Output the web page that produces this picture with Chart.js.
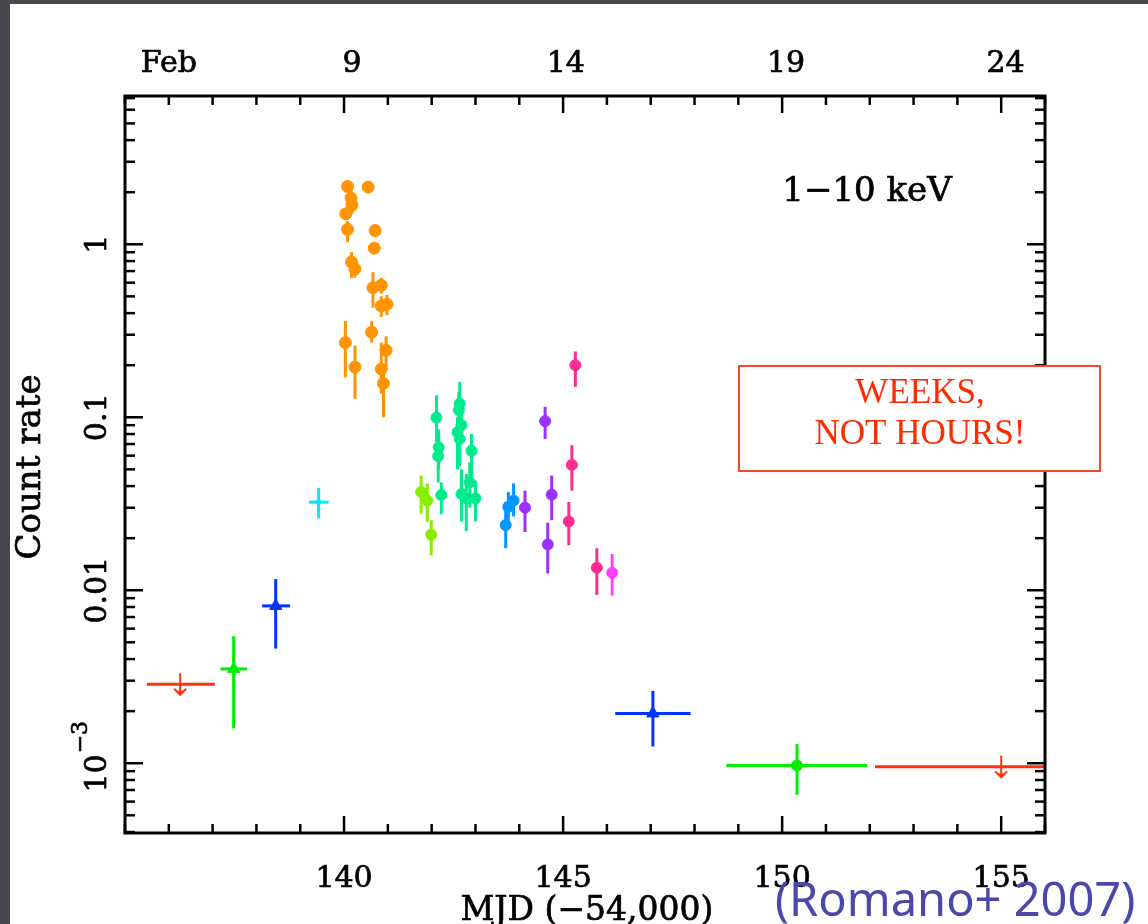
<!DOCTYPE html>
<html><head><meta charset="utf-8">
<script src="https://cdn.jsdelivr.net/npm/chart.js@4.4.1/dist/chart.umd.min.js"></script>
<style>
html,body{margin:0;padding:0;background:#46484e;width:1148px;height:924px;overflow:hidden;}
#wrap{position:absolute;left:10px;top:4px;width:1138px;height:920px;background:#fff;}
</style></head><body>
<div id="wrap"><canvas id="c"></canvas></div>
<script>
// ---------- axis ranges & tick labels ----------
const xRange = [135, 156];
const yRange = [3.95e-4, 7.2];
const xMajorTicks = [140, 145, 150, 155];
const xTickLabels = ['140', '145', '150', '155'];
const topLabelMJD = [136.0, 140.18, 145.06, 150.09, 155.1];
const topTickLabels = ['Feb', '9', '14', '19', '24'];
const yMajorTicks = [1, 0.1, 0.01, 0.001];
const yTickLabels = ['1', '0.1', '0.01', '10^-3'];

// ---------- data (MJD-54000, count rate, error range) ----------
const orangeMJD  = [140.08, 140.55, 140.16, 140.18, 140.04, 140.08, 140.71, 140.69, 140.17, 140.25, 140.66, 140.85, 140.85, 140.98, 140.63, 140.03, 140.25, 140.96, 140.85, 140.90];
const orangeRate = [2.16, 2.14, 1.85, 1.68, 1.5, 1.22, 1.2, 0.95, 0.79, 0.72, 0.56, 0.58, 0.44, 0.45, 0.31, 0.27, 0.195, 0.244, 0.19, 0.157];
const orangeLow  = [2.0, 2.0, 1.65, 1.5, 1.38, 1.03, 1.1, 0.88, 0.64, 0.64, 0.43, 0.52, 0.38, 0.39, 0.27, 0.17, 0.128, 0.195, 0.137, 0.10];
const orangeHigh = [2.3, 2.3, 2.05, 1.85, 1.62, 1.36, 1.3, 1.02, 0.9, 0.8, 0.69, 0.64, 0.5, 0.51, 0.36, 0.36, 0.26, 0.294, 0.27, 0.18];

const limeMJD  = [141.76, 141.90, 141.99];
const limeRate = [0.037, 0.033, 0.021];
const limeLow  = [0.0277, 0.0249, 0.0159];
const limeHigh = [0.046, 0.0414, 0.0254];

const tealMJD  = [142.11, 142.16, 142.15, 142.22, 142.64, 142.62, 142.68, 142.59, 142.64, 142.91, 142.68, 142.87, 142.79, 143.00];
const tealRate = [0.0995, 0.067, 0.0596, 0.0355, 0.12, 0.11, 0.09, 0.082, 0.075, 0.064, 0.036, 0.042, 0.034, 0.034];
const tealLow  = [0.072, 0.05, 0.042, 0.0275, 0.09, 0.085, 0.07, 0.05, 0.052, 0.042, 0.025, 0.03, 0.022, 0.025];
const tealHigh = [0.134, 0.085, 0.075, 0.042, 0.16, 0.14, 0.11, 0.1, 0.095, 0.08, 0.05, 0.055, 0.047, 0.043];

const azureMJD  = [143.69, 143.75, 143.87];
const azureRate = [0.0238, 0.0303, 0.033];
const azureLow  = [0.0175, 0.024, 0.0267];
const azureHigh = [0.0324, 0.037, 0.0415];

const purpleMJD  = [144.59, 144.13, 144.74, 144.65];
const purpleRate = [0.095, 0.030, 0.0357, 0.0184];
const purpleLow  = [0.075, 0.0217, 0.0254, 0.0125];
const purpleHigh = [0.115, 0.0377, 0.046, 0.0246];

const pinkMJD  = [145.28, 145.20, 145.13, 145.77];
const pinkRate = [0.2, 0.053, 0.025, 0.0135];
const pinkLow  = [0.15, 0.0377, 0.0182, 0.0094];
const pinkHigh = [0.24, 0.069, 0.0324, 0.0175];

const magentaMJD  = [146.12];
const magentaRate = [0.0126];
const magentaLow  = [0.0093];
const magentaHigh = [0.0162];

// single binned points: [early green, early blue, cyan, late blue, late green]
const binMJD     = [137.48, 138.44, 139.42, 147.05, 150.34];
const binMJDLow  = [137.18, 138.13, 139.20, 146.19, 148.73];
const binMJDHigh = [137.79, 138.77, 139.65, 147.91, 151.94];
const binRate    = [0.00351, 0.00812, 0.0323, 0.00194, 0.00097];
const binLow     = [0.00159, 0.0046, 0.026, 0.00125, 0.000656];
const binHigh    = [0.00542, 0.0116, 0.039, 0.00262, 0.00129];

// upper limits
const ulMJD     = [136.26, 155.0];
const ulMJDLow  = [135.5, 152.12];
const ulMJDHigh = [137.05, 156.0];
const ulRate    = [0.00286, 0.000953];

// ---------- build datasets ----------
function pts(xs, ys, lo, hi, xlo, xhi) {
  return xs.map((v, i) => ({x: v, y: ys[i], yMin: lo ? lo[i] : null, yMax: hi ? hi[i] : null,
    xMin: xlo ? xlo[i] : null, xMax: xhi ? xhi[i] : null}));
}
function ds(data, color, style, r) {
  return {data, borderColor: color, backgroundColor: color, pointStyle: style || 'circle',
    pointRadius: r, pointBorderWidth: r > 0 ? 1 : 0, showLine: false};
}
const binData = pts(binMJD, binRate, binLow, binHigh, binMJDLow, binMJDHigh);
const ulData = ulMJD.map((v, i) => ({x: v, y: ulRate[i], xMin: ulMJDLow[i], xMax: ulMJDHigh[i], ul: true}));

const datasets = [
  ds(pts(orangeMJD, orangeRate, orangeLow, orangeHigh), '#ff9400', 'circle', 6),
  ds(pts(limeMJD, limeRate, limeLow, limeHigh), '#88ee00', 'circle', 5.5),
  ds(pts(tealMJD, tealRate, tealLow, tealHigh), '#00ec8c', 'circle', 5.5),
  ds(pts(azureMJD, azureRate, azureLow, azureHigh), '#0096ff', 'circle', 5.5),
  ds(pts(purpleMJD, purpleRate, purpleLow, purpleHigh), '#9b30ff', 'circle', 5.5),
  ds(pts(pinkMJD, pinkRate, pinkLow, pinkHigh), '#ff2c90', 'circle', 5.5),
  ds(pts(magentaMJD, magentaRate, magentaLow, magentaHigh), '#ff40ff', 'circle', 5.5),
  ds([binData[0]], '#00ee00', 'triangle', 7),
  ds([binData[1]], '#0033ff', 'triangle', 7),
  ds([binData[2]], '#00e8ff', 'circle', 2.5),
  ds([binData[3]], '#0033ff', 'triangle', 7),
  ds([binData[4]], '#00ee00', 'circle', 5.5),
  ds(ulData, '#ff3010', 'circle', 0)
];

// ---------- plugins ----------
const errorBars = {
  id: 'errorBars',
  beforeDatasetsDraw(chart) {
    const {ctx, scales: {x, y}} = chart;
    ctx.save();
    ctx.lineCap = 'butt';
    chart.data.datasets.forEach(d => {
      ctx.strokeStyle = d.borderColor;
      ctx.fillStyle = d.borderColor;
      d.data.forEach(p => {
        const px = x.getPixelForValue(p.x), py = y.getPixelForValue(p.y);
        ctx.lineWidth = 3;
        if (p.yMin != null) {
          ctx.beginPath();
          ctx.moveTo(px, y.getPixelForValue(p.yMin));
          ctx.lineTo(px, y.getPixelForValue(p.yMax));
          ctx.stroke();
        }
        if (p.xMin != null) {
          ctx.beginPath();
          ctx.moveTo(x.getPixelForValue(p.xMin), py);
          ctx.lineTo(x.getPixelForValue(p.xMax), py);
          ctx.stroke();
        }
        if (p.ul) {
          const top = y.getPixelForValue(p.y * 1.16), bot = y.getPixelForValue(p.y / 1.15);
          ctx.lineWidth = 2;
          ctx.beginPath(); ctx.moveTo(px, top); ctx.lineTo(px, bot); ctx.stroke();
          ctx.beginPath();
          ctx.moveTo(px - 6, bot - 6); ctx.lineTo(px, bot); ctx.lineTo(px + 6, bot - 6);
          ctx.stroke();
          ctx.beginPath();
          ctx.moveTo(px - 3, bot - 4); ctx.lineTo(px + 3, bot - 4); ctx.lineTo(px, bot); ctx.closePath();
          ctx.fill();
        }
      });
    });
    ctx.restore();
  }
};

const FONT = '"DejaVu Serif", serif';
function boldText(ctx, txt, x, y) {
  ctx.fillText(txt, x, y);
  ctx.lineWidth = 0.7;
  ctx.strokeText(txt, x, y);
}
const axesFrame = {
  id: 'axesFrame',
  afterDatasetsDraw(chart) {
    const {ctx, chartArea: a, scales: {x, y}} = chart;
    ctx.save();
    ctx.strokeStyle = '#000';
    // ticks
    ctx.lineWidth = 2.5;
    const line = (x1, y1, x2, y2) => { ctx.beginPath(); ctx.moveTo(x1, y1); ctx.lineTo(x2, y2); ctx.stroke(); };
    for (let v = Math.ceil(xRange[0]); v <= xRange[1]; v++) {
      const px = x.getPixelForValue(v);
      const len = xMajorTicks.includes(v) ? 17 : 9;
      line(px, a.bottom, px, a.bottom - len);
      line(px, a.top, px, a.top + len);
    }
    const yMinor = [];
    [1e-4, 1e-3, 1e-2, 1e-1, 1].forEach(d => { for (let m = 2; m <= 9; m++) yMinor.push(d * m); });
    yMinor.filter(v => v >= yRange[0] && v <= yRange[1]).forEach(v => {
      const py = y.getPixelForValue(v);
      line(a.left, py, a.left + 10, py);
      line(a.right, py, a.right - 10, py);
    });
    yMajorTicks.forEach(v => {
      const py = y.getPixelForValue(v);
      line(a.left, py, a.left + 18, py);
      line(a.right, py, a.right - 18, py);
    });
    // frame
    ctx.lineWidth = 3;
    ctx.strokeRect(a.left, a.top, a.right - a.left, a.bottom - a.top);

    // tick labels
    ctx.fillStyle = '#000';
    ctx.strokeStyle = '#000';
    ctx.textAlign = 'center';
    ctx.textBaseline = 'middle';
    ctx.font = '30px ' + FONT;
    xMajorTicks.forEach((v, i) => boldText(ctx, xTickLabels[i], x.getPixelForValue(v), a.bottom + 46));
    topLabelMJD.forEach((v, i) => boldText(ctx, topTickLabels[i], x.getPixelForValue(v), a.top - 32));
    yMajorTicks.forEach((v, i) => {
      const py = y.getPixelForValue(v);
      ctx.save();
      ctx.translate(a.left - 27, py);
      ctx.rotate(-Math.PI / 2);
      const lab = yTickLabels[i];
      if (lab.includes('^')) {
        const [base, exp] = lab.split('^');
        ctx.font = '30px ' + FONT;
        const w1 = ctx.measureText(base).width;
        ctx.font = '22px ' + FONT;
        const expTxt = exp.replace('-', '\u2212');
        const w2 = ctx.measureText(expTxt).width;
        const start = -(w1 + w2) / 2 + 6;
        ctx.textAlign = 'left';
        ctx.font = '30px ' + FONT;
        boldText(ctx, base, start, 0);
        ctx.font = '22px ' + FONT;
        boldText(ctx, expTxt, start + w1 + 1, -17);
      } else {
        boldText(ctx, lab, 0, 0);
      }
      ctx.restore();
    });
    // axis titles
    ctx.font = '33px ' + FONT;
    ctx.textAlign = 'center';
    boldText(ctx, 'MJD (\u221254,000)', 577, 907);
    ctx.save();
    ctx.translate(21, 463);
    ctx.rotate(-Math.PI / 2);
    ctx.font = '34px ' + FONT;
    boldText(ctx, 'Count rate', 0, 0);
    ctx.restore();
    ctx.font = '34px ' + FONT;
    boldText(ctx, '1\u221210 keV', 857, 188);
    ctx.restore();
  },
  afterDraw(chart) {
    const {ctx} = chart;
    ctx.save();
    // annotation box
    ctx.fillStyle = '#fff';
    ctx.fillRect(729, 362, 361, 105);
    ctx.strokeStyle = '#f04a2a';
    ctx.lineWidth = 2;
    ctx.strokeRect(729, 362, 361, 105);
    ctx.fillStyle = '#ff2a00';
    ctx.font = '35px "Liberation Serif", serif';
    ctx.textAlign = 'center';
    ctx.textBaseline = 'middle';
    ctx.fillText('WEEKS,', 910, 390);
    ctx.fillText('NOT HOURS!', 910, 431);
    // citation
    ctx.fillStyle = '#4a48aa';
    ctx.font = '47px "Noto Sans", sans-serif';
    ctx.textAlign = 'left';
    ctx.textBaseline = 'alphabetic';
    ctx.fillText('(Romano+ 2007)', 765, 912);
    ctx.restore();
  }
};

new Chart(document.getElementById('c'), {
  type: 'scatter',
  data: {datasets},
  options: {
    responsive: true,
    maintainAspectRatio: false,
    animation: false,
    layout: {padding: {left: 115, top: 92, right: 103, bottom: 91}},
    plugins: {legend: {display: false}, tooltip: {enabled: false}},
    scales: {
      x: {type: 'linear', min: xRange[0], max: xRange[1], display: false},
      y: {type: 'logarithmic', min: yRange[0], max: yRange[1], display: false}
    }
  },
  plugins: [errorBars, axesFrame]
});
</script></body></html>
